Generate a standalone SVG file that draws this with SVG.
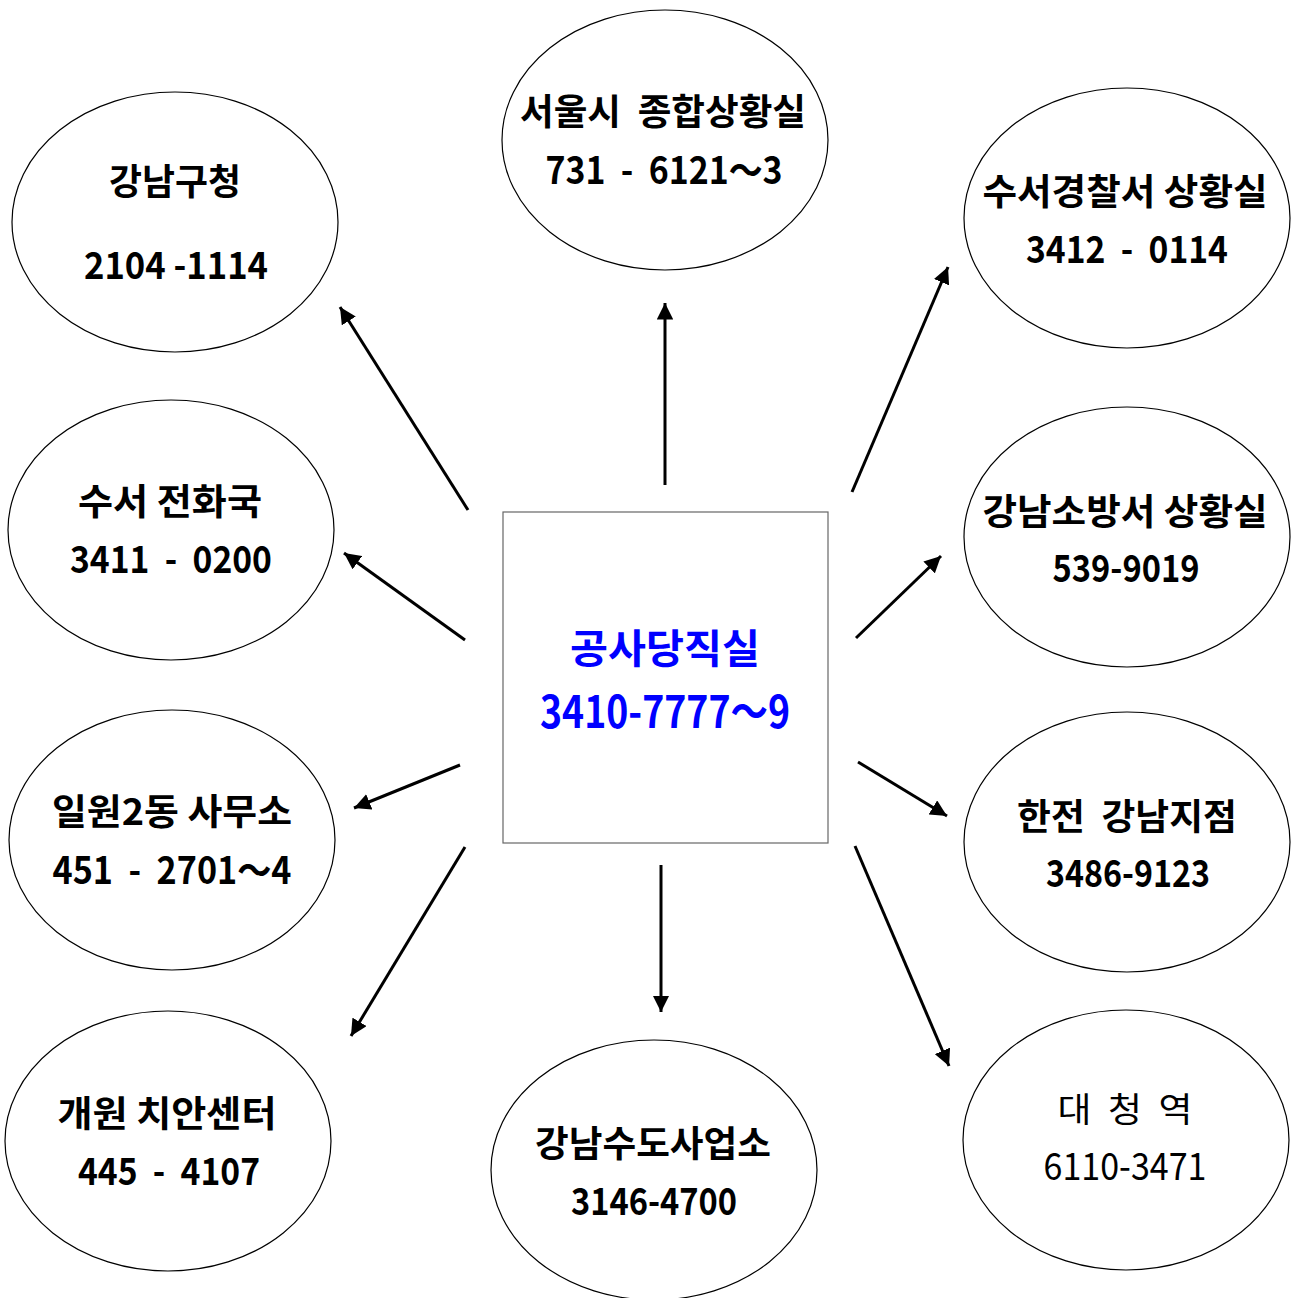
<svg xmlns="http://www.w3.org/2000/svg" width="1296" height="1298" viewBox="0 0 1296 1298" xml:space="preserve">
<style>
.n{fill:#fff;stroke:#000;stroke-width:1.2}
.t{font-family:"Noto Sans CJK KR","Noto Sans",sans-serif;font-weight:bold;font-size:36px;fill:#000;text-anchor:middle;white-space:pre}
.d{font-family:"Noto Sans CJK KR","Noto Sans",sans-serif;font-weight:bold;font-size:38px;fill:#000;text-anchor:middle;white-space:pre}
.r{font-weight:normal}
.c{stroke:#000;stroke-width:3;fill:none;marker-end:url(#ah)}
</style>
<defs>
<marker id="ah" markerWidth="5.5" markerHeight="5.5" refX="5.5" refY="2.75" orient="auto" markerUnits="strokeWidth">
<path d="M0,0 L5.5,2.75 L0,5.5 Z" fill="#000"/>
</marker>
</defs>
<rect width="1296" height="1298" fill="#fff"/>
<g id="connectors">
<line class="c" x1="468" y1="510" x2="340" y2="307"/>
<line class="c" x1="665" y1="485" x2="665" y2="303"/>
<line class="c" x1="852" y1="492" x2="948" y2="267"/>
<line class="c" x1="465" y1="640" x2="344" y2="553"/>
<line class="c" x1="856" y1="638" x2="941" y2="556"/>
<line class="c" x1="460" y1="765" x2="354" y2="808"/>
<line class="c" x1="858" y1="762" x2="947" y2="816"/>
<line class="c" x1="465" y1="847" x2="351" y2="1036"/>
<line class="c" x1="661" y1="865" x2="661" y2="1012"/>
<line class="c" x1="855" y1="846" x2="949" y2="1066"/>
</g>
<g id="center">
<rect x="503" y="512" width="325" height="331" fill="#fff" stroke="#666" stroke-width="1.2"/>
<text class="t" x="665" y="663" style="fill:#0000ff;font-size:40px" textLength="190" lengthAdjust="spacingAndGlyphs">공사당직실</text>
<text class="d" x="665" y="728" style="fill:#0000ff;font-size:44px" textLength="250" lengthAdjust="spacingAndGlyphs">3410-7777～9</text>
</g>
<g id="n-seoul">
<ellipse class="n" cx="665" cy="140" rx="163" ry="130"/>
<text class="t" x="663" y="125" textLength="286" lengthAdjust="spacingAndGlyphs">서울시  종합상황실</text>
<text class="d" x="664" y="184" textLength="237" lengthAdjust="spacingAndGlyphs">731  -  6121～3</text>
</g>
<g id="n-gangnamgu">
<ellipse class="n" cx="175" cy="222" rx="163" ry="130"/>
<text class="t" x="175" y="195" textLength="132" lengthAdjust="spacingAndGlyphs">강남구청</text>
<text class="d" x="176" y="279" textLength="184" lengthAdjust="spacingAndGlyphs">2104 -1114</text>
</g>
<g id="n-suseopolice">
<ellipse class="n" cx="1127" cy="218" rx="163" ry="130"/>
<text class="t" x="1125" y="205" textLength="285" lengthAdjust="spacingAndGlyphs">수서경찰서 상황실</text>
<text class="d" x="1127" y="263" textLength="202" lengthAdjust="spacingAndGlyphs">3412  -  0114</text>
</g>
<g id="n-suseotel">
<ellipse class="n" cx="171" cy="530" rx="163" ry="130"/>
<text class="t" x="170" y="515" textLength="184" lengthAdjust="spacingAndGlyphs">수서 전화국</text>
<text class="d" x="171" y="573" textLength="202" lengthAdjust="spacingAndGlyphs">3411  -  0200</text>
</g>
<g id="n-fire">
<ellipse class="n" cx="1127" cy="537" rx="163" ry="130"/>
<text class="t" x="1125" y="525" textLength="285" lengthAdjust="spacingAndGlyphs">강남소방서 상황실</text>
<text class="d" x="1126" y="582" textLength="147" lengthAdjust="spacingAndGlyphs">539-9019</text>
</g>
<g id="n-ilwon">
<ellipse class="n" cx="172" cy="840" rx="163" ry="130"/>
<text class="t" x="172" y="825" textLength="240" lengthAdjust="spacingAndGlyphs">일원2동 사무소</text>
<text class="d" x="172" y="884" textLength="239" lengthAdjust="spacingAndGlyphs">451  -  2701～4</text>
</g>
<g id="n-kepco">
<ellipse class="n" cx="1127" cy="842" rx="163" ry="130"/>
<text class="t" x="1127" y="830" textLength="220" lengthAdjust="spacingAndGlyphs">한전  강남지점</text>
<text class="d" x="1128" y="887" textLength="164" lengthAdjust="spacingAndGlyphs">3486-9123</text>
</g>
<g id="n-gaewon">
<ellipse class="n" cx="168" cy="1141" rx="163" ry="130"/>
<text class="t" x="167" y="1127" textLength="219" lengthAdjust="spacingAndGlyphs">개원 치안센터</text>
<text class="d" x="169" y="1185" textLength="182" lengthAdjust="spacingAndGlyphs">445  -  4107</text>
</g>
<g id="n-water">
<ellipse class="n" cx="654" cy="1170" rx="163" ry="130"/>
<text class="t" x="653" y="1157" textLength="236" lengthAdjust="spacingAndGlyphs">강남수도사업소</text>
<text class="d" x="654" y="1215" textLength="166" lengthAdjust="spacingAndGlyphs">3146-4700</text>
</g>
<g id="n-daecheong">
<ellipse class="n" cx="1126" cy="1140" rx="163" ry="130"/>
<text class="t r" x="1125" y="1122" style="font-size:34px" textLength="135" lengthAdjust="spacingAndGlyphs">대  청  역</text>
<text class="d r" x="1125" y="1180" textLength="163" lengthAdjust="spacingAndGlyphs">6110-3471</text>
</g>
</svg>
